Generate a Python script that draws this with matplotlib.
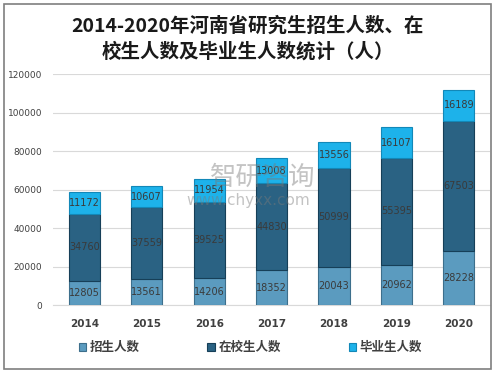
import numpy as np
import matplotlib.pyplot as plt
from matplotlib.patches import Rectangle

plt.rcParams['font.family'] = ['Noto Sans CJK SC', 'DejaVu Sans']

years = ['2014', '2015', '2016', '2017', '2018', '2019', '2020']
enrolled = [12805, 13561, 14206, 18352, 20043, 20962, 28228]
in_school = [34760, 37559, 39525, 44830, 50999, 55395, 67503]
graduates = [11172, 10607, 11954, 13008, 13556, 16107, 16189]
series_names = ['招生人数', '在校生人数', '毕业生人数']
yticks = [0, 20000, 40000, 60000, 80000, 100000, 120000]

colors = ['#5b9bbf', '#2a6283', '#1db2ea']
edges = ['#3d6f8c', '#163f58', '#1288b8']

fig = plt.figure(figsize=(4.96, 3.74), dpi=100)
ax = fig.add_axes([0.107, 0.184, 0.881, 0.618])

x = np.arange(len(years))
bottoms = np.zeros(len(years))
for vals, name, c, ec in zip([enrolled, in_school, graduates], series_names, colors, edges):
    ax.bar(x, vals, 0.5, bottom=bottoms, color=c, edgecolor=ec, linewidth=0.8, label=name, zorder=3)
    for xi, b, v in zip(x, bottoms, vals):
        ax.text(xi, b + v / 2, str(v), ha='center', va='center', fontsize=7,
                color='#3a3a3a', family='DejaVu Sans', zorder=4)
    bottoms = bottoms + np.array(vals)

ax.set_xlim(-0.5, 6.5)
ax.set_ylim(0, 120000)
ax.set_yticks(yticks)
ax.set_yticklabels([str(t) for t in yticks], fontsize=6.5, color='#404040', family='DejaVu Sans')
ax.set_xticks(x)
ax.set_xticklabels(years, fontsize=7.5, fontweight='bold', color='#404040', family='DejaVu Sans')
ax.tick_params(axis='x', length=0, pad=10)
ax.tick_params(axis='y', length=0, pad=8)
ax.grid(axis='y', color='#d9d9d9', linewidth=0.8, zorder=0)
for s in ['top', 'right', 'left']:
    ax.spines[s].set_visible(False)
ax.spines['bottom'].set_color('#d9d9d9')

fig.suptitle('2014-2020年河南省研究生招生人数、在\n校生人数及毕业生人数统计（人）',
             x=0.5, y=0.955, va='top', fontsize=14, fontweight='bold', color='#1a1a1a',
             linespacing=1.35)

# watermark
fig.text(0.53, 0.527, '智研咨询', fontsize=19, color='#7a7a7a', alpha=0.45, ha='center', va='center')
fig.text(0.5, 0.463, 'www.chyxx.com', fontsize=11, color='#7a7a7a', alpha=0.45, ha='center', va='center',
         family='DejaVu Sans')

leg = fig.legend(loc='center', bbox_to_anchor=(0.505, 0.07), ncol=3, frameon=False,
                 prop={'size': 9, 'weight': 'bold'}, handlelength=0.6, handleheight=0.6,
                 handletextpad=0.3, columnspacing=5.4)
for t in leg.get_texts():
    t.set_color('#404040')

fig.patches.append(Rectangle((0.008, 0.013), 0.982, 0.976, transform=fig.transFigure,
                             fill=False, edgecolor='#7f7f7f', linewidth=1.2))

fig.savefig('out.png', dpi=100)
